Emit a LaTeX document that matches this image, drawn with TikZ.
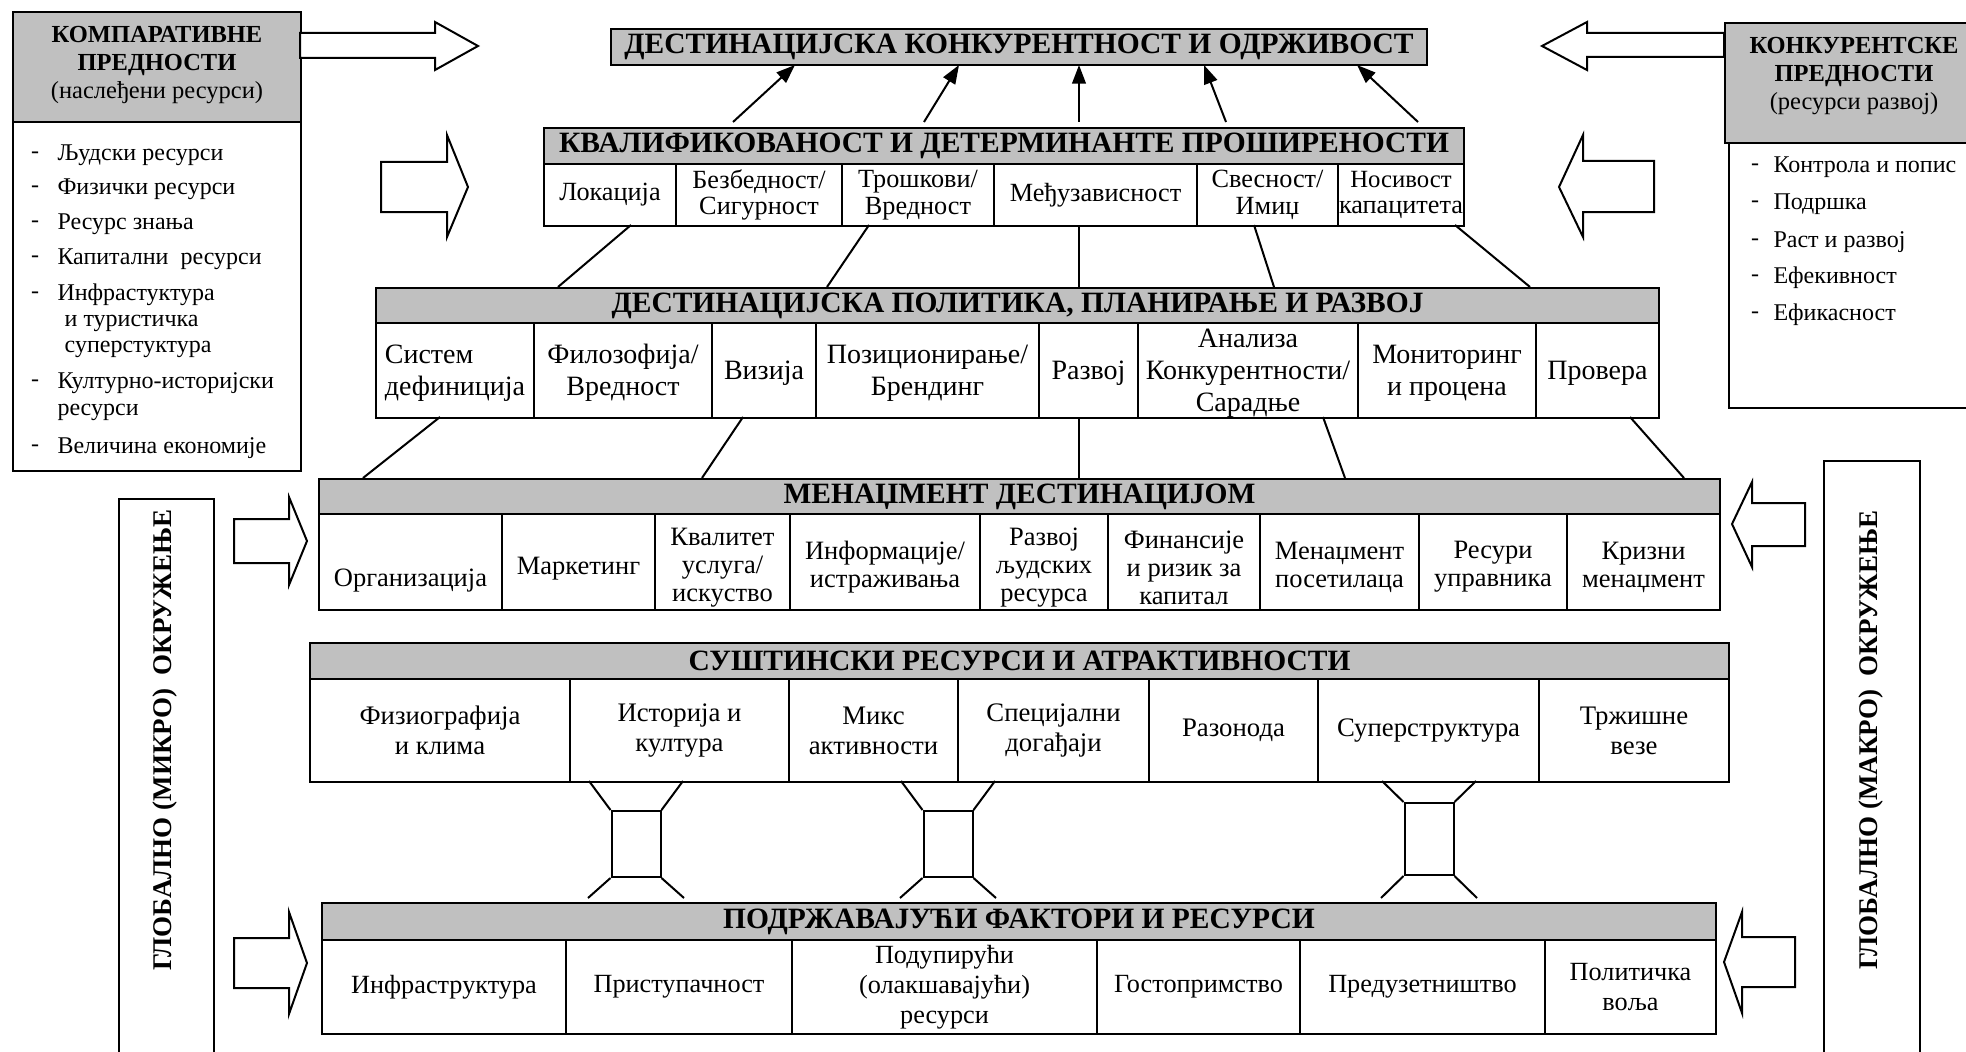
\documentclass[tikz,border=0pt]{standalone}
\usepackage{fontspec}
\setmainfont{Liberation Serif}
\usetikzlibrary{arrows.meta, calc}
\definecolor{headgray}{HTML}{C0C0C0}

\begin{document}
\begin{tikzpicture}[
    x=0.4pt, y=-0.4pt,
    every node/.style={font=\fontsize{10.6}{12}\selectfont},
    boxline/.style={draw=black, line width=0.8pt},
    head/.style={boxline, fill=headgray, inner sep=0pt, anchor=north west, font=\fontsize{11.8}{13}\selectfont\bfseries},
    cell/.style={boxline, inner sep=0pt, anchor=north west},
    txt/.style={align=center, inner sep=0pt},
    qrow/.style={font=\fontsize{10.5}{10.6}\selectfont},
    prow/.style={font=\fontsize{11.2}{12.8}\selectfont},
    mrow/.style={font=\fontsize{10.6}{11.2}\selectfont},
    crow/.style={font=\fontsize{10.7}{12}\selectfont},
    srow/.style={font=\fontsize{10.5}{12}\selectfont},
    link/.style={line width=0.8pt},
    push/.style={line width=0.8pt, -{Triangle[length=7.5pt, width=5.5pt]}},
    fat/.style={draw, line width=0.8pt, fill=white},
    side/.style={inner sep=0pt, font=\fontsize{9.6}{10.8}\selectfont},
    sidehead/.style={align=center, inner sep=0pt, font=\fontsize{9.8}{11.2}\selectfont\bfseries},
    vert/.style={rotate=90, inner sep=0pt, font=\fontsize{10.8}{12}\selectfont\bfseries}
]

\useasboundingbox (0,0) rectangle (1966,1052);
\clip (0,0) rectangle (1966,1052);

% Goal box
\node[head, minimum width=816*0.4pt, minimum height=36*0.4pt] (goal) at (610,28) {ДЕСТИНАЦИЈСКА КОНКУРЕНТНОСТ И ОДРЖИВОСТ};

% Row 1 - Qualifying and amplifying determinants
\node[head, minimum width=920*0.4pt, minimum height=36*0.4pt] (qual) at (543,127) {КВАЛИФИКОВАНОСТ И ДЕТЕРМИНАНТЕ ПРОШИРЕНОСТИ};
\foreach \a/\b/\lab [count=\i] in {543/675/{Локација}, 675/841/{Безбедност/\\Сигурност}, 841/993/{Трошкови/\\Вредност}, 993/1196/{Међузависност}, 1196/1337/{Свесност/\\Имиџ}, 1337/1463/{\fontsize{9.9}{10.6}\selectfont Носивост\\капацитета}} {
    \node[cell, minimum width=(\b-\a)*0.4pt, minimum height=62*0.4pt] (q\i) at (\a,163) {};
    \node[txt, qrow] (qt\i) at (q\i) {\lab};
}

% Row 2 - Policy, planning and development
\node[head, minimum width=1283*0.4pt, minimum height=35*0.4pt] (pol) at (375,287) {ДЕСТИНАЦИЈСКА ПОЛИТИКА, ПЛАНИРАЊЕ И РАЗВОЈ};
\foreach \a/\b/\al/\lab [count=\i] in {375/533/left/{Систем\\дефиниција}, 533/711/center/{Филозофија/\\Вредност}, 711/815/center/{Визија}, 815/1038/center/{Позиционирање/\\Брендинг}, 1038/1137/center/{Развој}, 1137/1357/center/{Анализа\\Конкурентности/\\Сарадње}, 1357/1535/center/{Мониторинг\\и процена}, 1535/1658/center/{Провера}} {
    \node[cell, minimum width=(\b-\a)*0.4pt, minimum height=95*0.4pt] (p\i) at (\a,322) {};
    \node[txt, prow, align=\al] (pt\i) at ([yshift=-1pt]p\i.center) {\lab};
}

% Row 3 - Destination management
\node[head, minimum width=1401*0.4pt, minimum height=35*0.4pt] (mgmt) at (318,478) {МЕНАЏМЕНТ ДЕСТИНАЦИЈОМ};
\foreach \a/\b/\dy/\lab [count=\i] in {318/501/-7.6/{Организација}, 501/654/-2.8/{Маркетинг}, 654/789/-2.4/{Квалитет\\услуга/\\искуство}, 789/979/-2/{Информације/\\истраживања}, 979/1107/-2.4/{Развој\\људских\\ресурса}, 1107/1259/-2.4/{Финансије\\и ризик за\\капитал}, 1259/1418/-2/{Менаџмент\\посетилаца}, 1418/1566/-2/{Ресури\\управника}, 1566/1719/-2/{Кризни\\менаџмент}} {
    \node[cell, minimum width=(\b-\a)*0.4pt, minimum height=96*0.4pt] (m\i) at (\a,513) {};
    \node[txt, mrow] (mt\i) at ([yshift=\dy pt]m\i.center) {\lab};
}

% Row 4 - Core resources and attractors
\node[head, minimum width=1419*0.4pt, minimum height=36*0.4pt] (core) at (309,642) {СУШТИНСКИ РЕСУРСИ И АТРАКТИВНОСТИ};
\foreach \a/\b/\lab [count=\i] in {309/569/{Физиографија\\и клима}, 569/788/{Историја и\\култура}, 788/957/{Микс\\активности}, 957/1148/{Специјални\\догађаји}, 1148/1317/{Разонода}, 1317/1538/{Суперструктура}, 1538/1728/{Тржишне\\везе}} {
    \node[cell, minimum width=(\b-\a)*0.4pt, minimum height=103*0.4pt] (c\i) at (\a,678) {};
    \node[txt, crow] (ct\i) at (c\i) {\lab};
}

% Row 5 - Supporting factors and resources
\node[head, minimum width=1394*0.4pt, minimum height=37*0.4pt] (supp) at (321,902) {ПОДРЖАВАЈУЋИ ФАКТОРИ И РЕСУРСИ};
\foreach \a/\b/\lab [count=\i] in {321/565/{Инфраструктура}, 565/791/{Приступачност}, 791/1096/{Подупирући\\(олакшавајући)\\ресурси}, 1096/1299/{Гостопримство}, 1299/1544/{Предузетништво}, 1544/1715/{Политичка\\воља}} {
    \node[cell, minimum width=(\b-\a)*0.4pt, minimum height=94*0.4pt] (s\i) at (\a,939) {};
    \node[txt, srow] (st\i) at (s\i) {\lab};
}

% Arrows into the goal box
\foreach \sx/\ex [count=\i] in {733/795, 924/959, 1079/1079, 1226/1204, 1418/1357} {
    \coordinate (as\i) at (\sx,122);
    \coordinate (ae\i) at (\ex,65);
    \draw[push] (as\i) -- (ae\i);
}

% Links between rows
\foreach \sx/\ex [count=\i] in {631/558, 869/827, 1079/1079, 1254/1274, 1455/1530} {
    \coordinate (la\i) at (\sx,225);
    \coordinate (lb\i) at (\ex,287);
    \draw[link] (la\i) -- (lb\i);
}
\foreach \sx/\ex [count=\i] in {440/363, 743/702, 1079/1079, 1323/1345, 1630/1684} {
    \coordinate (ka\i) at (\sx,417);
    \coordinate (kb\i) at (\ex,478);
    \draw[link] (ka\i) -- (kb\i);
}

% Bridges core -> supporting
\foreach \c/\ya/\yb [count=\i] in {636/810/876, 948/810/876, 1429/802/874} {
    \node[boxline, inner sep=0pt, anchor=north, minimum width=49*0.4pt, minimum height=(\yb-\ya)*0.4pt] (br\i) at (\c,\ya) {};
    \draw[link] (br\i.north west) -- (\c-47,781);
    \draw[link] (br\i.north east) -- (\c+47,781);
    \draw[link] (br\i.south west) -- (\c-48,898);
    \draw[link] (br\i.south east) -- (\c+48,898);
}

% Comparative advantages
\node[head, minimum width=288*0.4pt, minimum height=110*0.4pt] (cmph) at (12,11) {};
\node[sidehead] (cmpt) at ([yshift=0.8pt]cmph.center) {КОМПАРАТИВНЕ\\ПРЕДНОСТИ\\{\mdseries (наслеђени ресурси)}};
\node[cell, minimum width=288*0.4pt, minimum height=349*0.4pt] (cmpb) at (12,121) {};
\foreach \y [count=\i] in {155,189,224,259,295,383,448}
    \node[side] (cd\i) at (35,\y) {-};
\foreach \y/\lab [count=\i] in {155/{Људски ресурси}, 189/{Физички ресурси}, 224/{Ресурс знања}, 259/{Капитални~ ресурси}, 295/{Инфрастуктура}, 323/{\hspace{0.3em}и туристичка}, 349/{\hspace{0.3em}суперстуктура}, 383/{Културно-историјски}, 412/{ресурси}, 448/{Величина економије}}
    \node[side, anchor=west] (cl\i) at (57,\y) {\lab};

% Competitive advantages
\node[head, minimum width=258*0.4pt, minimum height=120*0.4pt] (cnkh) at (1724,22) {};
\node[sidehead] (cnkt) at ([yshift=2.8pt]cnkh.center) {КОНКУРЕНТСКЕ\\ПРЕДНОСТИ\\{\mdseries (ресурси развој)}};
\node[cell, minimum width=254*0.4pt, minimum height=265*0.4pt] (cnkb) at (1728,142) {};
\foreach \y/\lab [count=\i] in {167/{Контрола и попис}, 204/{Подршка}, 242/{Раст и развој}, 278/{Ефекивност}, 315/{Ефикасност}} {
    \node[side] (rd\i) at (1755,\y) {-};
    \node[side, anchor=west] (rl\i) at (1773,\y) {\lab};
}

% Global environment
\node[cell, minimum width=95*0.4pt, minimum height=600*0.4pt] (micro) at (118,498) {};
\node[vert] (microt) at (165.5,740) {ГЛОБАЛНО (МИКРО)~ ОКРУЖЕЊЕ};
\node[cell, minimum width=96*0.4pt, minimum height=640*0.4pt] (macro) at (1823,460) {};
\node[vert] (macrot) at (1871,740) {ГЛОБАЛНО (МАКРО)~ ОКРУЖЕЊЕ};

% Block arrows
\draw[fat] (300,33) -- (435,33) -- (435,22) -- (478,46) -- (435,70) -- (435,58) -- (300,58) -- cycle;
\draw[fat] (1724,33) -- (1587,33) -- (1587,22) -- (1542,46) -- (1587,70) -- (1587,57) -- (1724,57) -- cycle;
\draw[fat] (381,162) -- (447,162) -- (447,135) -- (468,187) -- (447,237) -- (447,212) -- (381,212) -- cycle;
\draw[fat] (1654,161) -- (1583,161) -- (1583,135) -- (1559,187) -- (1583,237) -- (1583,212) -- (1654,212) -- cycle;
\draw[fat] (234,519) -- (289,519) -- (289,497) -- (307,541) -- (289,585) -- (289,563) -- (234,563) -- cycle;
\draw[fat] (1805,503) -- (1752,503) -- (1752,482) -- (1732,524) -- (1752,567) -- (1752,546) -- (1805,546) -- cycle;
\draw[fat] (234,938) -- (289,938) -- (289,912) -- (307,963) -- (289,1014) -- (289,988) -- (234,988) -- cycle;
\draw[fat] (1795,937) -- (1742,937) -- (1742,912) -- (1724,962) -- (1742,1013) -- (1742,987) -- (1795,987) -- cycle;

\end{tikzpicture}
\end{document}
